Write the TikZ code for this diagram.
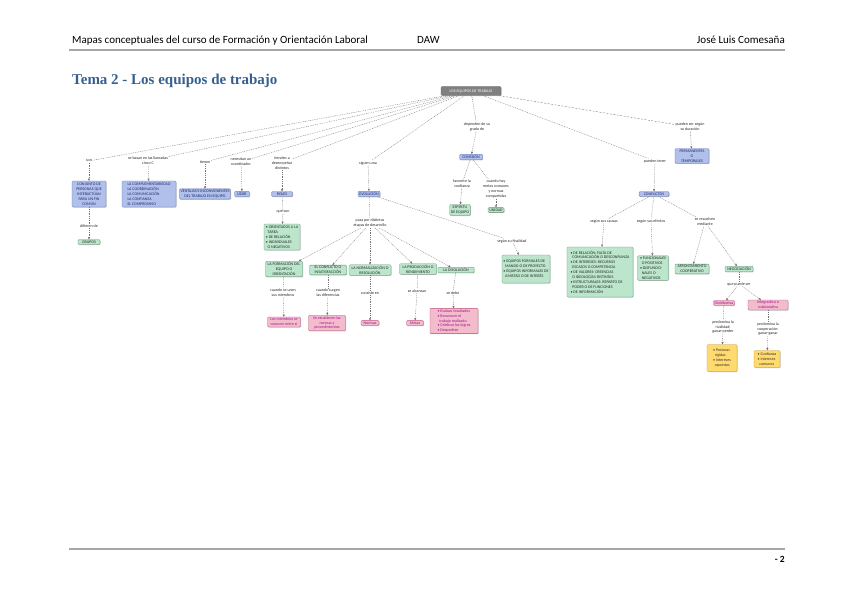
\documentclass[tikz,border=0pt]{standalone}
\usepackage{fontspec}
\setmainfont{Carlito}
\newfontfamily\titlefont{Liberation Serif}
\usepackage{tikz}
\usetikzlibrary{positioning,arrows.meta,shadows}
\definecolor{titleblue}{RGB}{54,95,145}
\definecolor{blufill}{RGB}{176,192,234}
\definecolor{bluline}{RGB}{96,116,180}
\definecolor{blutext}{RGB}{30,40,110}
\definecolor{grnfill}{RGB}{188,230,204}
\definecolor{grnline}{RGB}{90,150,110}
\definecolor{pnkfill}{RGB}{242,188,204}
\definecolor{pnkline}{RGB}{190,80,120}
\definecolor{pnktext}{RGB}{160,20,140}
\definecolor{yelfill}{RGB}{255,218,110}
\definecolor{yelline}{RGB}{190,150,40}
\definecolor{rootfill}{RGB}{128,128,128}

\begin{document}
\begin{tikzpicture}[
  x=1pt, y=-1pt,
  font=\fontsize{4}{4.9}\selectfont,
  box/.style={draw, rounded corners=1pt, align=center, inner sep=1.1pt,
              line width=.3pt,
              drop shadow={shadow xshift=.6pt, shadow yshift=-.6pt, fill=black!45}},
  blu/.style={box, fill=blufill, draw=bluline, text=blutext},
  grn/.style={box, fill=grnfill, draw=grnline, text=black!85},
  pnk/.style={box, fill=pnkfill, draw=pnkline, text=pnktext},
  yel/.style={box, fill=yelfill, draw=yelline, text=black!80},
  lbl/.style={align=center, inner sep=.6pt, text=black!85},
  con/.style={draw=black!55, line width=.35pt, dash pattern=on .9pt off .9pt},
  arr/.style={con, -{Triangle[length=2.2pt, width=2pt]}}
]
\useasboundingbox (0,0) rectangle (848,599);
% ---- page header / footer ----
\node[anchor=base west, inner sep=0, font=\fontsize{11}{13}\selectfont] (hdr) at (72,44)
     {Mapas conceptuales del curso de Formación y Orientación Laboral};
\node[anchor=base west, inner sep=0, font=\fontsize{11}{13}\selectfont] (daw) at (417,44) {DAW};
\node[anchor=base east, inner sep=0, font=\fontsize{11}{13}\selectfont] (autor) at (785,44)
     {José Luis Comesaña};
\draw[line width=1.6pt, black!35] (69,50) -- (785,50);
\node[anchor=base west, inner sep=0, text=titleblue,
      font=\titlefont\bfseries\fontsize{15}{17}\selectfont] (titulo) at (72,85)
     {Tema 2 - Los equipos de trabajo};
\draw[line width=1.6pt, black!35] (69,549) -- (785,549);
\node[anchor=base east, inner sep=0, font=\bfseries\fontsize{9.5}{11}\selectfont] (pag) at (785,562) {- 2};
% ---- root ----
\node[box, fill=rootfill, draw=black!60, text=white, minimum width=60pt, minimum height=9pt]
     (root) at (471,91) {LOS EQUIPOS DE TRABAJO};
% ---- left branches ----
\node[lbl] (son) at (89,161) {son};
\node[blu, minimum width=34pt, minimum height=26pt] (conj) at (89,194)
     {CONJUNTO DE\\PERSONAS QUE\\INTERACTÚAN\\PARA UN FIN\\COMÚN};
\node[lbl] (difer) at (89,226) {difieren de};
\node[grn, minimum width=22pt] (grupos) at (89,242) {GRUPOS};
\node[lbl] (basan) at (148,161) {se basan en las llamadas\\cinco C};
\node[blu, align=left, minimum width=54pt, minimum height=26pt] (cincoc) at (149,194)
     {LA COMPLEMENTARIEDAD\\LA COORDINACIÓN\\LA COMUNICACIÓN\\LA CONFIANZA\\EL COMPROMISO};
\node[lbl] (tienen) at (205,162) {tienen};
\node[blu, minimum width=46pt] (ventaj) at (205,194) {VENTAJAS E INCONVENIENTES\\DEL TRABAJO EN EQUIPO};
\node[lbl] (necesit) at (241,162) {necesitan un\\coordinador};
\node[blu, minimum width=15pt] (lider) at (242,194) {LÍDER};
\node[lbl] (tiend) at (282,163) {tienden a\\desempeñar\\distintos};
\node[blu, minimum width=21pt] (roles) at (282,194) {ROLES};
\node[lbl] (queson) at (283,212) {que son};
\node[grn, align=left, minimum width=36pt, minimum height=26pt] (tiposrol) at (282,237)
     {• ORIENTADOS A LA\\\ \ TAREA\\• DE RELACIÓN\\• INDIVIDUALES\\\ \ O NEGATIVOS};
% ---- evolution ----
\node[lbl] (siguen) at (368,163) {siguen una};
\node[blu, minimum width=22pt] (evol) at (369,194) {EVOLUCIÓN};
\node[lbl] (pasa) at (370,223) {pasa por distintas\\etapas de desarrollo};
\node[grn, minimum width=37pt, minimum height=15pt] (form) at (284,269) {LA FORMACIÓN DEL\\EQUIPO O\\ORIENTACIÓN};
\node[grn, minimum width=37pt] (confl) at (328,270) {EL CONFLICTO O\\INSATISFACCIÓN};
\node[grn, minimum width=42pt] (norm) at (370,270) {LA NORMALIZACIÓN O\\RESOLUCIÓN};
\node[grn, minimum width=37pt] (prod) at (418,269) {LA PRODUCCIÓN O\\RENDIMIENTO};
\node[grn, minimum width=36pt] (disol) at (456,270) {LA DISOLUCIÓN};
\node[lbl] (cuando) at (283,293) {cuando se unen\\sus miembros};
\node[lbl] (surgen) at (328,293) {cuando surgen\\las diferencias};
\node[lbl] (consiste) at (370,293) {consiste en};
\node[lbl] (alcanza) at (417,291) {se alcanzan};
\node[lbl] (sedebe) at (453,293) {se debe};
\node[pnk, minimum width=33pt] (conocen) at (284,322) {Los miembros se\\conocen entre sí};
\node[pnk, minimum width=37pt] (establ) at (327,323) {Se establecen las\\normas y\\procedimientos};
\node[pnk, minimum width=18pt] (normas) at (370,323) {Normas};
\node[pnk, minimum width=17pt] (metas) at (415,323) {Metas};
\node[pnk, align=left, minimum width=48pt] (cierre) at (454,321)
     {• Evaluar resultados\\• Reconocer el\\\ \ trabajo realizado\\• Celebrar los logros\\• Despedirse};
\node[lbl] (finalid) at (512,241) {según su finalidad};
\node[grn, align=left, minimum width=48pt, minimum height=28pt] (tiposeq) at (526,269)
     {• EQUIPOS FORMALES DE\\\ \ MANDO O DE PROYECTO\\• EQUIPOS INFORMALES DE\\\ \ AMISTAD O DE INTERÉS};
% ---- cohesion ----
\node[lbl] (depend) at (477,127) {dependen de su\\grado de};
\node[blu, minimum width=23pt] (cohes) at (471,157) {COHESIÓN};
\node[lbl] (favor) at (462,184) {favorece la\\confianza};
\node[grn, minimum width=18pt] (espir) at (460,210) {ESPÍRITU\\DE EQUIPO};
\node[lbl] (metasc) at (496,189) {cuando hay\\metas comunes\\y normas\\compartidas};
\node[grn, minimum width=16pt] (unidad) at (496,210) {UNIDAD};
% ---- conflicts ----
\node[lbl] (surgir) at (655,161) {pueden tener};
\node[blu, minimum width=30pt] (conflic) at (654,194) {CONFLICTOS};
\node[lbl] (causas) at (604,221) {según sus causas};
\node[lbl] (efectos) at (651,221) {según sus efectos};
\node[lbl] (resuel) at (705,222) {se resuelven\\mediante};
\node[grn, align=left, minimum width=66pt, minimum height=50pt] (tiposc) at (600,272)
     {• DE RELACIÓN: FALTA DE\\\ \ COMUNICACIÓN O DESCONFIANZA\\• DE INTERESES: RECURSOS\\\ \ ESCASOS O COMPETENCIA\\• DE VALORES: CREENCIAS\\\ \ O IDEOLOGÍAS DISTINTAS\\• ESTRUCTURALES: REPARTO DE\\\ \ PODER O DE FUNCIONES\\• DE INFORMACIÓN};
\node[grn, align=left, minimum width=31pt] (efec) at (653,268)
     {• FUNCIONALES\\\ \ O POSITIVOS\\• DISFUNCIO-\\\ \ NALES O\\\ \ NEGATIVOS};
\node[grn, minimum width=34pt] (afront) at (692,269) {AFRONTAMIENTO\\COOPERATIVO};
\node[grn, minimum width=28pt] (negoc) at (739,269) {NEGOCIACIÓN};
\node[lbl] (puede) at (739,284) {que puede ser};
\node[pnk, minimum width=19pt] (distrib) at (724,303) {Distributiva};
\node[pnk, minimum width=40pt] (integr) at (768,305) {Integradora o\\colaborativa};
\node[lbl] (rival) at (723,327) {predomina la\\rivalidad:\\ganar-perder};
\node[lbl] (coop) at (768,329) {predomina la\\cooperación:\\ganar-ganar};
\node[yel, align=left, minimum width=30pt, minimum height=27pt] (posic) at (722,358)
     {• Posturas\\\ \ rígidas\\• Intereses\\\ \ opuestos};
\node[yel, align=left, minimum width=26pt, minimum height=17pt] (confia) at (767,359)
     {• Confianza\\• Intereses\\\ \ comunes};
% ---- duration ----
\node[lbl] (durac) at (690,127) {pueden ser según\\su duración};
\node[blu, minimum width=34pt] (perm) at (692,156) {PERMANENTES\\O\\TEMPORALES};
% ---- connectors ----
\foreach \l in {son,basan,tienen,necesit,tiend,siguen,depend,surgir}
  \draw[con] (root) -- (\l);
\draw[con, dash pattern=on 2pt off 1.5pt] (root) -- (durac);
\draw[arr] (son) -- (conj);
\draw[con] (conj) -- (difer);
\draw[arr] (difer) -- (grupos);
\draw[arr] (basan) -- (cincoc);
\draw[arr] (tienen) -- (ventaj);
\draw[arr] (necesit) -- (lider);
\draw[arr] (tiend) -- (roles);
\draw[con] (roles) -- (queson);
\draw[arr] (queson) -- (tiposrol);
\draw[arr] (siguen) -- (evol);
\draw[con] (evol) -- (pasa);
\foreach \e in {form,confl,norm,prod,disol}
  \draw[arr] (pasa) -- (\e);
\draw[con] (form) -- (cuando);   \draw[arr] (cuando) -- (conocen);
\draw[con] (confl) -- (surgen);  \draw[arr] (surgen) -- (establ);
\draw[con] (norm) -- (consiste); \draw[arr] (consiste) -- (normas);
\draw[con] (prod) -- (alcanza);  \draw[arr] (alcanza) -- (metas);
\draw[con] (disol) -- (sedebe);  \draw[arr] (sedebe) -- (cierre);
\draw[con] (evol) -- (finalid);
\draw[arr] (finalid) -- (tiposeq);
\draw[arr] (depend) -- (cohes);
\draw[con] (cohes) -- (favor);   \draw[arr] (favor) -- (espir);
\draw[con] (cohes) -- (metasc);  \draw[arr] (metasc) -- (unidad);
\draw[arr] (surgir) -- (conflic);
\foreach \c in {causas,efectos,resuel}
  \draw[con] (conflic) -- (\c);
\draw[arr] (causas) -- (tiposc);
\draw[arr] (efectos) -- (efec);
\draw[arr] (resuel) -- (afront);
\draw[arr] (resuel) -- (negoc);
\draw[con] (negoc) -- (puede);
\draw[arr] (puede) -- (distrib);
\draw[arr] (puede) -- (integr);
\draw[con] (distrib) -- (rival); \draw[arr] (rival) -- (posic);
\draw[con] (integr) -- (coop);   \draw[arr] (coop) -- (confia);
\draw[arr] (durac) -- (perm);
\end{tikzpicture}
\end{document}
